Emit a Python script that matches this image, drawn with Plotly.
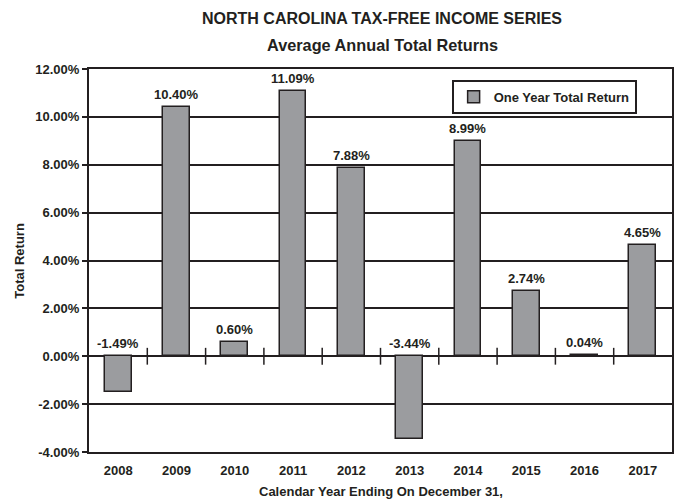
import plotly.graph_objects as go

years = [2008, 2009, 2010, 2011, 2012, 2013, 2014, 2015, 2016, 2017]
returns = [-1.49, 10.40, 0.60, 11.09, 7.88, -3.44, 8.99, 2.74, 0.04, 4.65]
y_ticks = [-4, -2, 0, 2, 4, 6, 8, 10, 12]
series_name = "One Year Total Return"
title_1 = "NORTH CAROLINA TAX-FREE INCOME SERIES"
title_2 = "Average Annual Total Returns"
x_title = "Calendar Year Ending On December 31,"
y_title = "Total Return"

FONT = "Liberation Sans, Arial, Helvetica, sans-serif"
TXT = "#231f20"

fig = go.Figure()
fig.add_trace(go.Bar(
    x=years, y=returns, name=series_name, width=0.46,
    marker=dict(color="#9b9c9f", line=dict(color="#231f20", width=1.5)),
    showlegend=True,
))
# category separator ticks on the zero line
fig.add_trace(go.Scatter(
    x=[y + 0.5 for y in years[:-1]], y=[0] * (len(years) - 1),
    mode="markers", showlegend=False, hoverinfo="skip",
    marker=dict(symbol="line-ns", size=12, line=dict(color="#231f20", width=1.5)),
))

annotations = []
for yr, v in zip(years, returns):
    annotations.append(dict(
        x=yr, y=max(v, 0), xref="x", yref="y", text=f"{v:.2f}%",
        showarrow=False, yanchor="bottom", yshift=3,
        font=dict(family=FONT, size=13, color=TXT, weight="bold"),
    ))
annotations += [
    dict(x=0.503, y=1.133, xref="paper", yref="paper", text=title_1, showarrow=False,
         xanchor="center", yanchor="middle", font=dict(family=FONT, size=16, color=TXT, weight="bold")),
    dict(x=0.503, y=1.0627, xref="paper", yref="paper", text=title_2, showarrow=False,
         xanchor="center", yanchor="middle", font=dict(family=FONT, size=16.3, color=TXT, weight="bold")),
    dict(x=-0.1197, y=0.5, xref="paper", yref="paper", text=y_title, showarrow=False, textangle=-90,
         xanchor="center", yanchor="middle", font=dict(family=FONT, size=13, color=TXT, weight="bold")),
    dict(x=0.5, y=-0.1044, xref="paper", yref="paper", text=x_title, showarrow=False,
         xanchor="center", yanchor="middle", font=dict(family=FONT, size=13, color=TXT, weight="bold")),
]

fig.update_layout(
    width=680, height=500,
    margin=dict(l=89, r=6, t=69, b=48),
    paper_bgcolor="white", plot_bgcolor="white",
    font=dict(family=FONT, size=13, color=TXT),
    annotations=annotations,
    legend=dict(
        x=0.622, y=0.972, xanchor="left", yanchor="top",
        bordercolor="#231f20", borderwidth=2, bgcolor="white",
        font=dict(family=FONT, size=13, color=TXT, weight="bold"),
        itemwidth=30, tracegroupgap=0,
    ),
    xaxis=dict(
        range=[2007.5, 2017.5], tickvals=years, ticktext=[str(y) for y in years],
        showgrid=False, zeroline=False, ticks="", ticklabelstandoff=5,
        showline=True, mirror=True, linecolor="#231f20", linewidth=2,
        tickfont=dict(family=FONT, size=13, color=TXT, weight="bold"),
    ),
    yaxis=dict(
        range=[-4, 12], tickvals=y_ticks, ticktext=[f"{t:.2f}%" for t in y_ticks],
        showgrid=True, gridcolor="#231f20", gridwidth=1.5,
        zeroline=True, zerolinecolor="#231f20", zerolinewidth=2,
        ticks="outside", ticklen=5, tickwidth=1.5, tickcolor="#231f20",
        showline=True, mirror=True, linecolor="#231f20", linewidth=2,
        tickfont=dict(family=FONT, size=13, color=TXT, weight="bold"),
    ),
    bargap=0,
)

fig.write_html(
    "out.html",
    config={"displayModeBar": False},
    post_script="document.body.style.margin='0';document.body.style.overflow='hidden';",
)
